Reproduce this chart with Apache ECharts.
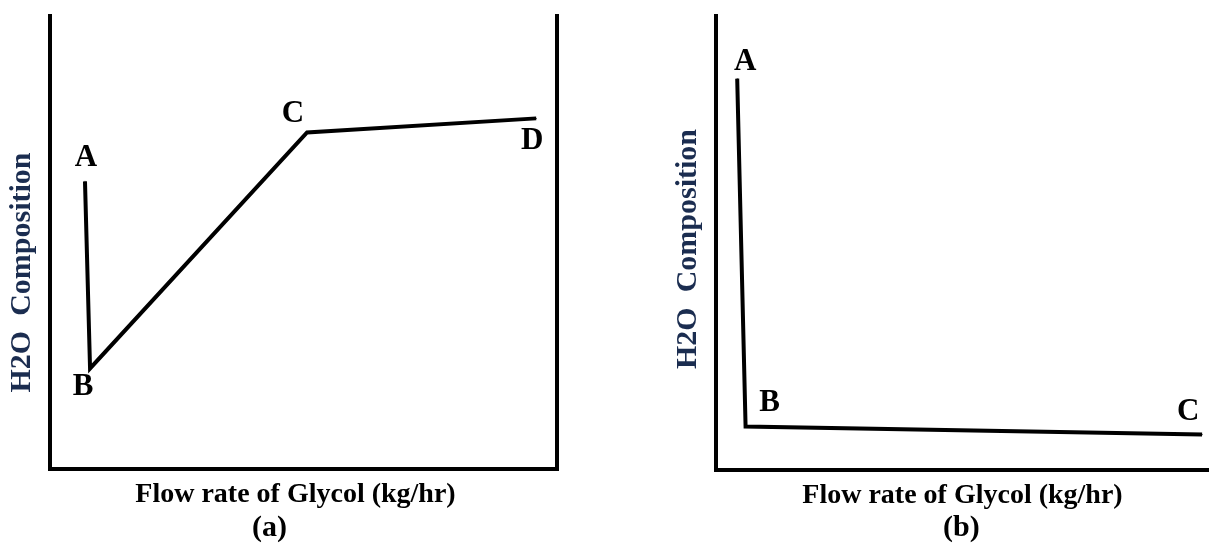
<!DOCTYPE html>
<html>
<head>
<meta charset="utf-8">
<title>H2O composition vs glycol flow rate</title>
<script src="https://cdn.jsdelivr.net/npm/echarts@6/dist/echarts.min.js"></script>
<style>
  html, body { margin: 0; padding: 0; background: #fff; }
  #chart { width: 1209px; height: 544px; }
</style>
</head>
<body>
<div id="chart"></div>
<script>
// sketch values, both panels on a 0-100 scale (no units on the original)
const pointNamesA = ['A', 'B', 'C', 'D']
const flowA = [6.9, 7.9, 50.7, 95.9]
const waterA = [63.5, 22.2, 74.3, 77.4]

const pointNamesB = ['A', 'B', 'C']
const flowB = [4.3, 6.0, 98.6]
const waterB = [86.2, 9.6, 7.8]

const panelTags = ['(a)', '(b)']
const xTitle = 'Flow rate of Glycol (kg/hr)'
const yTitle = 'H2O  Composition'

// where each letter sits relative to its point (pixels)
const labelOffsetA = [[1, -23], [-7, 19], [-14, -18], [-4, 23]]
const labelOffsetB = [[8, -17], [24, -23], [-14, -23]]

const serif = "'Liberation Serif', 'Times New Roman', serif"
const axisStroke = { color: '#000', width: 4, cap: 'square' }

function buildPoints(names, xs, ys, offsets) {
  return names.map((n, i) => ({
    name: n,
    value: [xs[i], ys[i]],
    label: { offset: offsets[i] }
  }))
}

function valueAxis(extra) {
  return Object.assign({
    type: 'value',
    min: 0,
    max: 100,
    axisLine: { show: true, onZero: false, lineStyle: axisStroke },
    axisTick: { show: false },
    axisLabel: { show: false },
    splitLine: { show: false }
  }, extra)
}

const xName = {
  name: xTitle,
  nameLocation: 'middle',
  nameGap: 12,
  nameTextStyle: { fontFamily: serif, fontWeight: 'bold', fontSize: 28, color: '#000' }
}

function yName(pad) {
  return {
    name: yTitle,
    nameLocation: 'middle',
    nameGap: 13,
    nameRotate: 90,
    nameTextStyle: {
      fontFamily: serif, fontWeight: 'bold', fontSize: 30, color: '#1b2d50', padding: pad
    }
  }
}

const letterLabel = {
  show: true,
  position: 'inside',
  formatter: '{b}',
  fontFamily: serif,
  fontWeight: 'bold',
  fontSize: 31,
  color: '#000'
}

const tagStyle = { fontFamily: serif, fontWeight: 'bold', fontSize: 30, color: '#000' }

const chart = echarts.init(document.getElementById('chart'))

chart.setOption({
  animation: false,
  backgroundColor: '#fff',
  title: [
    { text: panelTags[0], left: 247, top: 508, textStyle: tagStyle },
    { text: panelTags[1], left: 938, top: 508, textStyle: tagStyle }
  ],
  grid: [
    { left: 50, right: 652, top: 16, bottom: 75 },
    { left: 716, right: 0, top: 16, bottom: 74 }
  ],
  xAxis: [
    valueAxis(Object.assign({ gridIndex: 0 }, xName, {
      nameTextStyle: Object.assign({}, xName.nameTextStyle, { padding: [0, 16, 0, 0] })
    })),
    valueAxis(Object.assign({ gridIndex: 1 }, xName))
  ],
  yAxis: [
    valueAxis(Object.assign({ gridIndex: 0, position: 'left' }, yName([0, 60, 0, 0]))),
    valueAxis({ gridIndex: 0, position: 'right' }),
    valueAxis(Object.assign({ gridIndex: 1, position: 'left' }, yName([0, 12, 0, 0])))
  ],
  series: [
    {
      type: 'line',
      xAxisIndex: 0,
      yAxisIndex: 0,
      data: buildPoints(pointNamesA, flowA, waterA, labelOffsetA),
      symbol: 'circle',
      symbolSize: 1,
      itemStyle: { color: '#000' },
      lineStyle: { color: '#000', width: 4, join: 'miter' },
      label: letterLabel
    },
    {
      type: 'line',
      xAxisIndex: 1,
      yAxisIndex: 2,
      data: buildPoints(pointNamesB, flowB, waterB, labelOffsetB),
      symbol: 'circle',
      symbolSize: 1,
      itemStyle: { color: '#000' },
      lineStyle: { color: '#000', width: 4, join: 'miter' },
      label: letterLabel
    }
  ]
})
</script>
</body>
</html>
